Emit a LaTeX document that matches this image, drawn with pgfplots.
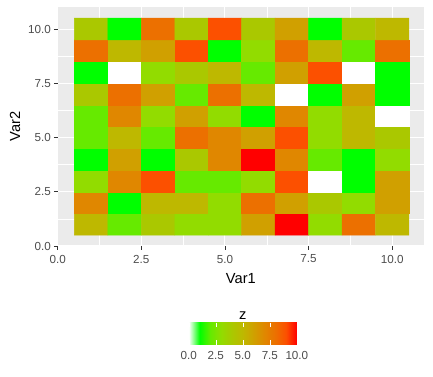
\documentclass[border=0pt]{standalone}
\usepackage{pgfplots}
\pgfplotsset{compat=1.18}
\usepackage{fontspec}
\setmainfont{Liberation Sans}
\definecolor{panelbg}{HTML}{EBEBEB}
\definecolor{ticklab}{HTML}{4D4D4D}
\definecolor{tickcol}{HTML}{333333}
\pgfplotsset{
  colormap={zmap}{
    rgb255(0cm)=(255,255,255)
    rgb255(1cm)=(0,255,0)
    rgb255(2cm)=(102,234,0)
    rgb255(3cm)=(146,220,0)
    rgb255(4cm)=(170,200,0)
    rgb255(5cm)=(190,184,0)
    rgb255(6cm)=(208,160,0)
    rgb255(7cm)=(224,135,0)
    rgb255(8cm)=(236,112,0)
    rgb255(9cm)=(252,80,0)
    rgb255(10cm)=(255,0,0)
  }
}
\pgfplotstableread{
x y z
1 1 5
2 1 2
3 1 4
4 1 3
5 1 3
6 1 6
7 1 10
8 1 3
9 1 8
10 1 5
1 2 7
2 2 1
3 2 5
4 2 5
5 2 3
6 2 8
7 2 6
8 2 4
9 2 3
10 2 6
1 3 3
2 3 7
3 3 9
4 3 2
5 3 2
6 3 3
7 3 9
8 3 0
9 3 1
10 3 6
1 4 1
2 4 6
3 4 1
4 4 4
5 4 7
6 4 10
7 4 7
8 4 2
9 4 1
10 4 3
1 5 2
2 5 5
3 5 2
4 5 8
5 5 7
6 5 6
7 5 9
8 5 3
9 5 5
10 5 4
1 6 2
2 6 7
3 6 3
4 6 6
5 6 3
6 6 1
7 6 7
8 6 3
9 6 5
10 6 0
1 7 4
2 7 8
3 7 6
4 7 2
5 7 8
6 7 5
7 7 0
8 7 1
9 7 6
10 7 1
1 8 1
2 8 0
3 8 3
4 8 4
5 8 5
6 8 2
7 8 6
8 8 9
9 8 0
10 8 1
1 9 8
2 9 5
3 9 6
4 9 9
5 9 1
6 9 3
7 9 8
8 9 5
9 9 2
10 9 8
1 10 4
2 10 1
3 10 8
4 10 4
5 10 9
6 10 4
7 10 6
8 10 1
9 10 4
10 10 5
}\zdata
\begin{document}
\begin{tikzpicture}
\begin{axis}[
  at={(0bp,0bp)}, anchor=south west,
  scale only axis, width=366.3bp, height=239.3bp,
  xmin=0, xmax=10.95, ymin=0, ymax=11.03,
  axis background/.style={fill=panelbg},
  axis line style={draw=none},
  grid=both,
  major grid style={white, line width=1.07bp},
  minor grid style={white, line width=0.53bp},
  xtick={0,2.5,5,7.5,10}, ytick={0,2.5,5,7.5,10},
  minor xtick={1.25,3.75,6.25,8.75}, minor ytick={1.25,3.75,6.25,8.75},
  minor tick length=0pt,
  tick pos=left, tick align=outside,
  major tick length=3.7bp,
  tick style={tickcol, line width=0.53bp},
  ticklabel style={font=\fontsize{11.7}{14}\selectfont, text=ticklab,
    /pgf/number format/fixed, /pgf/number format/fixed zerofill,
    /pgf/number format/precision=1, /pgf/number format/assume math mode=true},
  xticklabel style={inner sep=0pt, yshift=-5bp},
  yticklabel style={inner sep=0pt, xshift=-3bp},
  xlabel={Var1}, ylabel={Var2},
  label style={font=\fontsize{14.7}{17}\selectfont},
  xlabel style={at={(axis description cs:0.5,0)}, anchor=north, inner sep=0pt, yshift=-27bp},
  ylabel style={at={(axis description cs:-0.1165,0.5)}, anchor=center, inner sep=0pt},
  colormap name=zmap,
  point meta min=0, point meta max=10,
  colorbar horizontal,
  colorbar/width=22bp,
  colorbar style={
    at={(parent axis.south)}, anchor=north, xshift=2bp, yshift=-68bp,
    scale only axis, width=108bp, height=22bp,
    axis line style={draw=none},
    xtick={0,2.5,5,7.5,10},
    xtick pos=both, xticklabel pos=lower,
    tick align=inside, major tick length=4.4bp,
    xtick style={draw=white, line width=0.6bp},
    xticklabel style={font=\fontsize{11.7}{14}\selectfont, text=ticklab, inner sep=0pt, yshift=-7bp,
      /pgf/number format/fixed, /pgf/number format/fixed zerofill,
      /pgf/number format/precision=1, /pgf/number format/assume math mode=true},
    title={z},
    title style={at={(0.5,1)}, anchor=south, inner sep=0pt, yshift=-3bp, font=\fontsize{14.7}{17}\selectfont},
  },
]
\addplot[matrix plot*, mesh/cols=10, mesh/ordering=x varies, point meta=explicit]
  table[x=x, y=y, meta=z] {\zdata};
\end{axis}
\pgfresetboundingbox
\useasboundingbox (-57.7bp,-131bp) rectangle (375.3bp,246bp);
\end{tikzpicture}
\end{document}
